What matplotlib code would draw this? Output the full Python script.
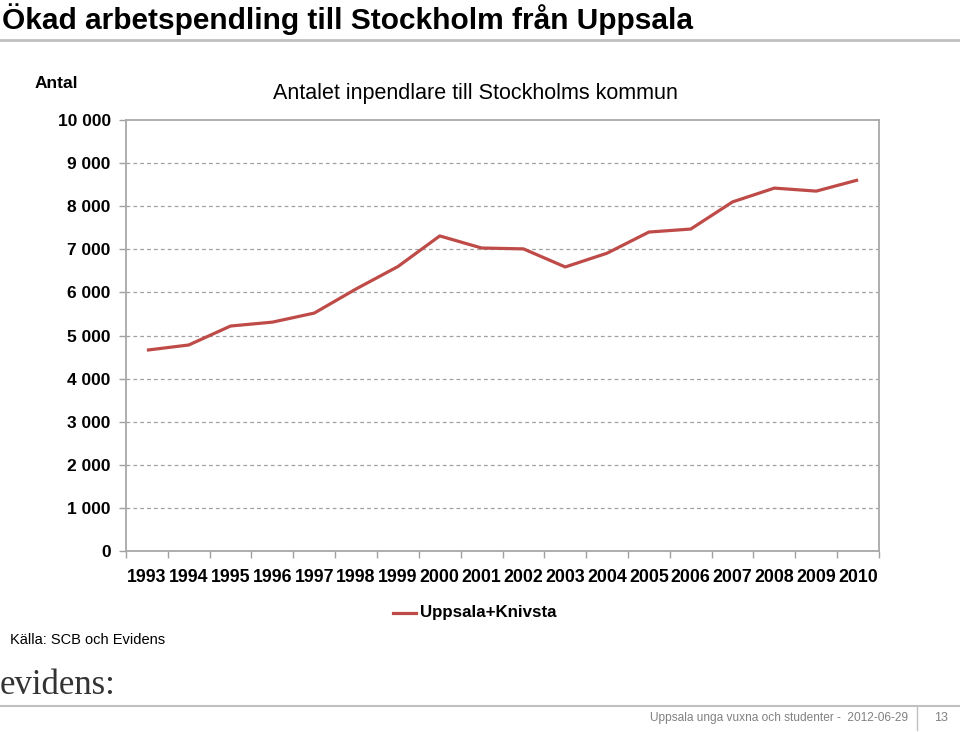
import matplotlib.pyplot as plt
import numpy as np
from matplotlib.lines import Line2D

plt.rcParams['font.family'] = ['Liberation Sans', 'DejaVu Sans']

years = list(range(1993, 2011))
pendlare = [4660, 4780, 5220, 5310, 5520, 6080, 6600, 7310, 7030, 7010,
            6590, 6910, 7400, 7470, 8100, 8420, 8350, 8610]
series_name = 'Uppsala+Knivsta'
y_ticks = list(range(0, 10001, 1000))

fig = plt.figure(figsize=(9.6, 7.32), dpi=100)
ax = fig.add_axes([126 / 960, 1 - 551 / 732, (879 - 126) / 960, (551 - 120) / 732])

x = np.arange(len(years))
ax.plot(x, pendlare, color='#BE4B48', lw=2.3, solid_capstyle='butt', zorder=3)

ax.set_xlim(-0.5, len(years) - 0.5)
ax.set_ylim(0, 10000)
ax.set_yticks(y_ticks)
ax.set_yticklabels([f"{v:,}".replace(',', ' ') for v in y_ticks],
                   fontsize=12.5, fontweight='bold')
ax.set_xticks(x)
ax.set_xticklabels([str(y) for y in years], fontsize=12.8, fontweight='bold')
ax.set_xticks(np.arange(-0.5, len(years), 1), minor=True)
ax.tick_params(axis='x', which='major', length=0, pad=13)
ax.tick_params(axis='x', which='minor', length=5, color='#A0A0A0', width=1)
ax.tick_params(axis='y', length=5, color='#A0A0A0', width=1, pad=6)

for v in y_ticks[1:-1]:
    ax.axhline(v, color='#A0A0A0', lw=0.9, ls=(0, (3, 2.5)), zorder=1)
for s in ax.spines.values():
    s.set_color('#A8A8A8')
    s.set_linewidth(1.3)

# titles and texts
fig.text(2 / 960, 1 - 19 / 732, 'Ökad arbetspendling till Stockholm från Uppsala',
         fontsize=21.5, fontweight='bold', va='center', ha='left')
fig.add_artist(Line2D([0, 1], [1 - 40 / 732, 1 - 40 / 732], color='#C0C0C0', lw=2))
fig.text(35 / 960, 1 - 83 / 732, 'Antal', fontsize=12.5, fontweight='bold', va='center')
fig.text(475 / 960, 1 - 93 / 732, 'Antalet inpendlare till Stockholms kommun',
         fontsize=15.5, va='center', ha='center')

# legend
fig.add_artist(Line2D([393 / 960, 416 / 960], [1 - 613 / 732, 1 - 613 / 732],
                      color='#BE4B48', lw=2.3))
fig.text(420 / 960, 1 - 613 / 732, series_name, fontsize=12.2, fontweight='bold', va='center')

fig.text(10 / 960, 1 - 640 / 732, 'Källa: SCB och Evidens', fontsize=10.5, va='center')
fig.text(0, 1 - 686 / 732, 'evidens:', fontsize=25, family='Liberation Serif',
         color='#333333', va='center')

fig.add_artist(Line2D([0, 1], [1 - 706 / 732, 1 - 706 / 732], color='#C0C0C0', lw=1.5))
fig.add_artist(Line2D([917 / 960, 917 / 960], [1 - 706 / 732, 1 - 730 / 732],
                      color='#C0C0C0', lw=1))
fig.text(908 / 960, 1 - 718 / 732, 'Uppsala unga vuxna och studenter -  2012-06-29',
         fontsize=8.6, color='#808080', ha='right', va='center')
fig.text(941 / 960, 1 - 718 / 732, '13', fontsize=9, color='#808080', ha='center', va='center')

plt.savefig('out.png', dpi=100)
